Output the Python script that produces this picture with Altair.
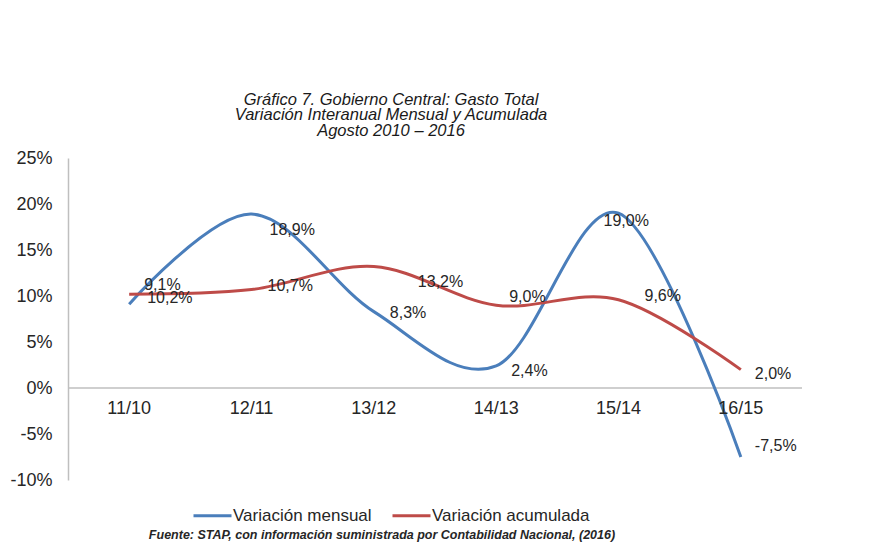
import altair as alt
import pandas as pd

categories = ["11/10", "12/11", "13/12", "14/13", "15/14", "16/15"]
mensual = [9.1, 18.9, 8.3, 2.4, 19.0, -7.5]
acumulada = [10.2, 10.7, 13.2, 9.0, 9.6, 2.0]
series_names = ["Variación mensual", "Variación acumulada"]
series_colors = ["#4A7EBB", "#BE4B48"]
y_ticks = [-10, -5, 0, 5, 10, 15, 20, 25]
title_lines = [
    "Gráfico 7. Gobierno Central: Gasto Total",
    "Variación Interanual Mensual y Acumulada",
    "Agosto 2010 – 2016",
]
source_text = "Fuente: STAP, con información suministrada por Contabilidad Nacional, (2016)"

# label placement offsets in pixels (layout only)
label_dx = {series_names[0]: [15, 18, 16, 15, -15, 14],
            series_names[1]: [18, 16, 44, 13, 26, 14]}
label_dy = {series_names[0]: [-19, 16, 1, 5, 8, -11],
            series_names[1]: [4, -4, 15, -8, -4, 4]}

rows = []
for i, c in enumerate(categories):
    rows.append({"cat": c, "serie": series_names[0], "valor": mensual[i], "idx": i})
    rows.append({"cat": c, "serie": series_names[1], "valor": acumulada[i], "idx": i})
df = pd.DataFrame(rows)

FONT = "Liberation Sans"
TXT = "#262626"

x_enc = alt.X("cat:N", sort=categories, scale=alt.Scale(type="point", padding=0.5), axis=None)
y_enc = alt.Y(
    "valor:Q",
    scale=alt.Scale(domain=[-10, 25], nice=False, zero=False),
    axis=alt.Axis(
        values=y_ticks, labelExpr="datum.value + '%'", title=None, grid=False,
        ticks=False, domainColor="#BFBFBF", domainWidth=1.5, labelPadding=16,
        labelFontSize=18, labelFont=FONT, labelColor=TXT,
    ),
)

base = alt.Chart(df)

zero_rule = alt.Chart(pd.DataFrame({"valor": [0]})).mark_rule(
    color="#BFBFBF", strokeWidth=1.5
).encode(y="valor:Q")

lines = base.mark_line(interpolate="cardinal", tension=0, strokeWidth=3).encode(
    x=x_enc,
    y=y_enc,
    color=alt.Color(
        "serie:N",
        scale=alt.Scale(domain=series_names, range=series_colors),
        sort=series_names,
        legend=alt.Legend(
            orient="none", legendX=124, legendY=337, direction="horizontal",
            title=None, symbolType="stroke", symbolSize=1444, symbolStrokeWidth=3,
            labelFontSize=17, labelFont=FONT, labelColor=TXT, columnPadding=14,
            labelOffset=0, padding=0,
        ),
    ),
    detail="serie:N",
)

cat_labels = alt.Chart(pd.DataFrame({"cat": categories, "valor": [0] * len(categories)})).mark_text(
    dy=21, fontSize=18, font=FONT, color=TXT
).encode(x=alt.X("cat:N", sort=categories), y="valor:Q", text="cat:N")

label_layers = []
for s in series_names:
    for i in range(len(categories)):
        label_layers.append(
            base.transform_filter(
                (alt.datum.serie == s) & (alt.datum.idx == i)
            ).transform_calculate(
                lab="replace(replace(format(datum.valor, '.1f'), '.', ','), '\u2212', '-') + '%'"
            ).mark_text(
                align="left", baseline="middle", dx=label_dx[s][i], dy=label_dy[s][i],
                fontSize=16, font=FONT, color=TXT,
            ).encode(x=alt.X("cat:N", sort=categories), y="valor:Q", text="lab:N")
        )

source = alt.Chart(pd.DataFrame({"t": [source_text]})).mark_text(
    fontSize=12.5, font=FONT, fontStyle="italic", fontWeight="bold", color="#262626"
).encode(x=alt.value(314), y=alt.value(377), text="t:N")

chart = alt.layer(zero_rule, lines, cat_labels, *label_layers, source).properties(
    width=734,
    height=322,
    background="white",
    autosize=alt.AutoSizeParams(type="none"),
    padding={"left": 60, "top": 150, "right": 61, "bottom": 63},
    title=alt.TitleParams(
        text=title_lines, fontSize=16.5, font=FONT, fontStyle="italic",
        fontWeight="normal", color="#1a1a1a", anchor="middle", dx=-44,
        offset=10, lineHeight=15.5,
    ),
).configure_view(stroke="transparent", strokeWidth=0)

chart.save("out.html", embed_options={"renderer": "svg", "actions": False})
